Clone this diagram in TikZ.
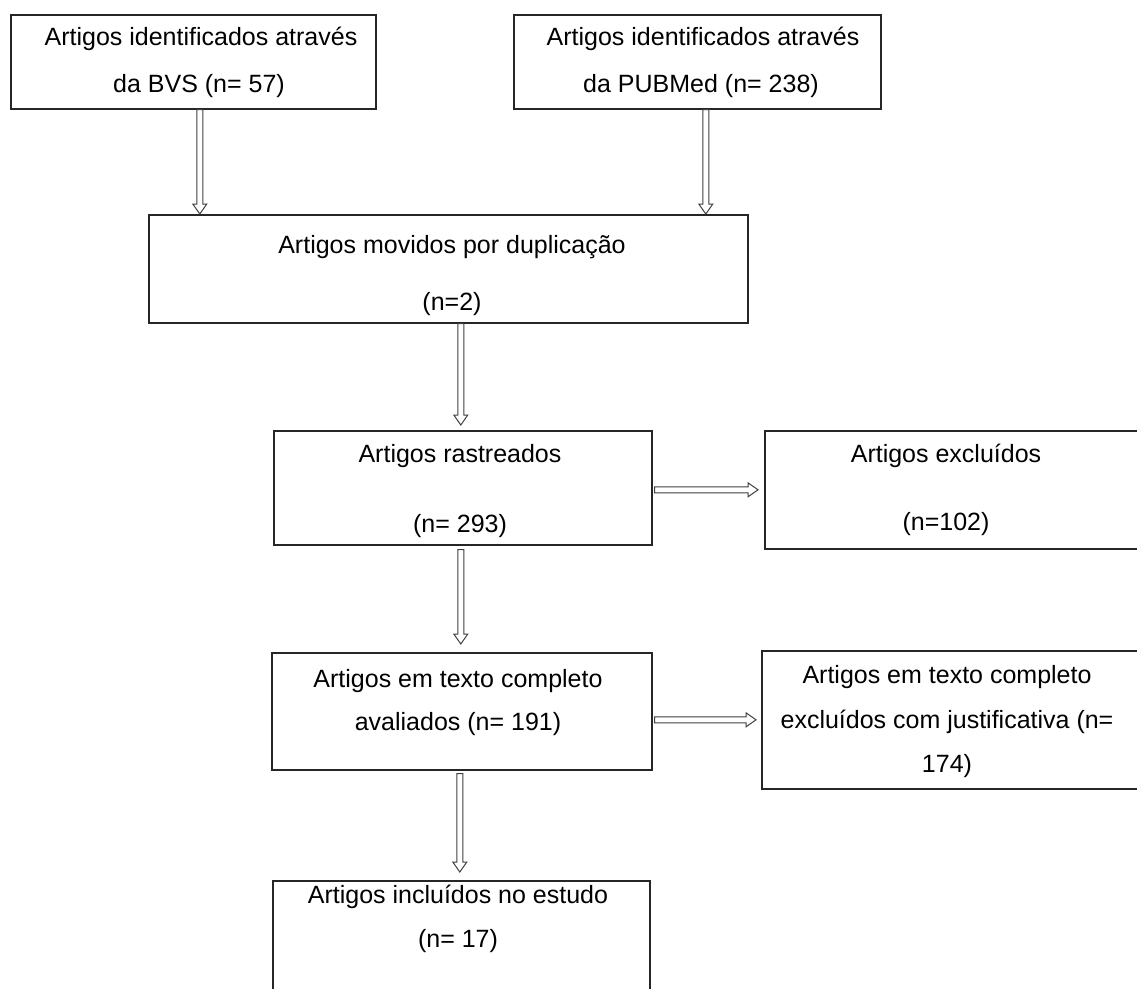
\documentclass[tikz,border=0pt]{standalone}
\usepackage{fontspec}
\setmainfont{Liberation Sans}
\usetikzlibrary{calc}
\tikzset{
  box/.style={draw=black!85, line width=1.6pt, rectangle, anchor=north west, inner sep=0pt},
  txt/.style={anchor=base, inner sep=0pt, font=\fontsize{25}{30}\selectfont},
  arr/.style={draw=black!75, line width=1pt, fill=white, line join=miter}
}
\newcommand{\hollowarrow}[2]{%
  \draw[arr] let \p1=(#1), \p2=(#2), \p3=($(#2)!10pt!(#1)$) in
    ($(\p1)!3pt!90:(\p2)$) -- ($(\p3)!3pt!90:(\p2)$) -- ($(\p3)!7pt!90:(\p2)$) -- (\p2)
    -- ($(\p3)!7pt!-90:(\p2)$) -- ($(\p3)!3pt!-90:(\p2)$) -- ($(\p1)!3pt!-90:(\p2)$) -- cycle;}
\begin{document}
\begin{tikzpicture}[x=1pt,y=-1pt]
\useasboundingbox (0,0) rectangle (1137,988);
\clip (0,0) rectangle (1137,988);
\fill[white] (0,0) rectangle (1137,988);

% boxes
\node[box, minimum width=365pt, minimum height=94pt] (b1) at (10,14) {};
\node[box, minimum width=367pt, minimum height=94pt] (b2) at (513,14) {};
\node[box, minimum width=599pt, minimum height=108pt] (b3) at (148,214) {};
\node[box, minimum width=378pt, minimum height=114pt] (b4) at (273,430) {};
\node[box, minimum width=385pt, minimum height=118pt] (b5) at (764,430) {};
\node[box, minimum width=380pt, minimum height=117pt] (b6) at (271,652) {};
\node[box, minimum width=385pt, minimum height=138pt] (b7) at (761,650) {};
\node[box, minimum width=377pt, minimum height=130pt] (b8) at (272,880) {};

% texts
\node[txt] (t1a) at (201,45) {Artigos identificados através};
\node[txt] (t1b) at (199,92) {da BVS (n= 57)};
\node[txt] (t2a) at (703,45) {Artigos identificados através};
\node[txt] (t2b) at (701,92) {da PUBMed (n= 238)};
\node[txt] (t3a) at (452,253) {Artigos movidos por duplicação};
\node[txt] (t3b) at (452,310) {(n=2)};
\node[txt] (t4a) at (460,462) {Artigos rastreados};
\node[txt] (t4b) at (460,532) {(n= 293)};
\node[txt] (t5a) at (946,462) {Artigos excluídos};
\node[txt] (t5b) at (946,530) {(n=102)};
\node[txt] (t6a) at (458,687) {Artigos em texto completo};
\node[txt] (t6b) at (458,730) {avaliados (n= 191)};
\node[txt] (t7a) at (947,683) {Artigos em texto completo};
\node[txt] (t7b) at (947,728) {excluídos com justificativa (n=};
\node[txt] (t7c) at (947,772) {174)};
\node[txt] (t8a) at (458,903) {Artigos incluídos no estudo};
\node[txt] (t8b) at (458,947) {(n= 17)};

% connectors
\coordinate (a1s) at ([xshift=6.5pt]b1.south);
\coordinate (a1e) at (a1s |- b3.north);
\hollowarrow{a1s}{a1e}
\coordinate (a2s) at ([xshift=8.5pt]b2.south);
\coordinate (a2e) at (a2s |- b3.north);
\hollowarrow{a2s}{a2e}
\coordinate (a3s) at ([xshift=-2pt]b4.north |- b3.south);
\coordinate (a3e) at ([xshift=-2pt,yshift=5pt]b4.north);
\hollowarrow{a3s}{a3e}
\coordinate (a4s) at ([xshift=2pt,yshift=-2pt]b4.east);
\coordinate (a4e) at ([xshift=-6pt]b5.west |- a4s);
\hollowarrow{a4s}{a4e}
\coordinate (a5s) at ([xshift=-2pt,yshift=-4pt]b4.south);
\coordinate (a5e) at ([yshift=8pt]a5s |- b6.north);
\hollowarrow{a5s}{a5e}
\coordinate (a6s) at ([xshift=2pt]b6.east |- b7.west);
\coordinate (a6e) at ([xshift=-5pt]b7.west);
\hollowarrow{a6s}{a6e}
\coordinate (a7s) at ([xshift=-2pt,yshift=-3pt]b6.south);
\coordinate (a7e) at ([yshift=8pt]a7s |- b8.north);
\hollowarrow{a7s}{a7e}
\end{tikzpicture}
\end{document}
